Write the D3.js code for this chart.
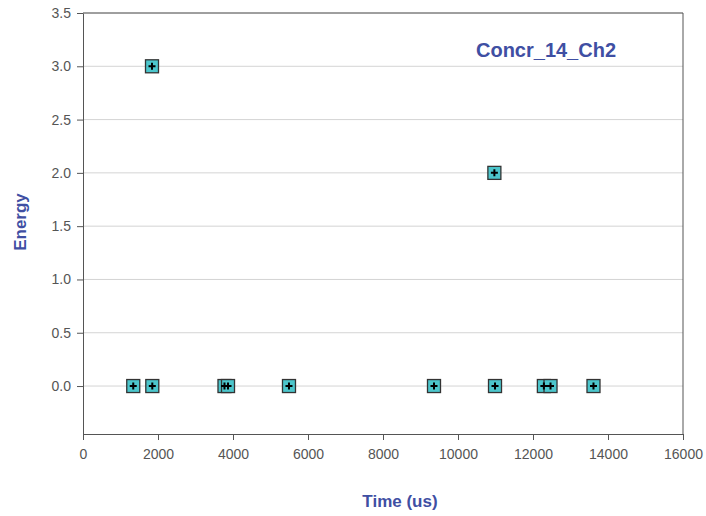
<!DOCTYPE html>
<html><head><meta charset="utf-8">
<script src="https://cdn.jsdelivr.net/npm/d3@7"></script>
<style>body{margin:0;background:#fff;}</style>
</head><body>
<script>
const timeUs = [1340, 1848, 3773, 3867, 5493, 9360, 10987, 12290, 12467, 13613, 1840, 10970];
const energy = [0, 0, 0, 0, 0, 0, 0, 0, 0, 0, 3, 2];
const xTicks = [0, 2000, 4000, 6000, 8000, 10000, 12000, 14000, 16000];
const yTicks = [0, 0.5, 1.0, 1.5, 2.0, 2.5, 3.0, 3.5];
const chartTitle = "Concr_14_Ch2";
const xTitle = "Time (us)";
const yTitle = "Energy";

const W = 706, H = 516;
const m = {left: 83, right: 23, top: 13, bottom: 82};
const svg = d3.select("body").append("svg").attr("width", W).attr("height", H);
const x = d3.scaleLinear().domain([0, 16000]).range([m.left, W - m.right]);
const y = d3.scaleLinear().domain([-0.45, 3.5]).range([H - m.bottom, m.top]);

// gridlines
svg.append("g").selectAll("line").data(yTicks).join("line")
  .attr("x1", m.left).attr("x2", W - m.right)
  .attr("y1", d => y(d)).attr("y2", d => y(d))
  .attr("stroke", "#d4d4d4").attr("stroke-width", 1);

// frame top and right
svg.append("line").attr("x1", m.left).attr("x2", W - m.right).attr("y1", m.top).attr("y2", m.top).attr("stroke", "#555");
svg.append("line").attr("x1", W - m.right).attr("x2", W - m.right).attr("y1", m.top).attr("y2", H - m.bottom).attr("stroke", "#555");

const ya = svg.append("g").attr("transform", `translate(${m.left},0)`)
  .call(d3.axisLeft(y).tickValues(yTicks).tickFormat(d3.format(".1f")).tickSize(6).tickSizeOuter(0));
const xa = svg.append("g").attr("transform", `translate(0,${H - m.bottom})`)
  .call(d3.axisBottom(x).tickValues(xTicks).tickFormat(d3.format("d")).tickSize(6).tickSizeOuter(0));
[ya, xa].forEach(g => {
  g.select(".domain").attr("stroke", "#555");
  g.selectAll(".tick line").attr("stroke", "#555");
  g.selectAll(".tick text").attr("fill", "#555").attr("font-family", "Liberation Sans, Arial, sans-serif").attr("font-size", 14);
});
ya.selectAll(".tick text").attr("x", -12);
xa.selectAll(".tick text").attr("dy", "1.15em");

// markers
const pts = timeUs.map((t, i) => ({t, e: energy[i]}));
const g = svg.append("g");
const s = 13;
g.selectAll("rect").data(pts).join("rect")
  .attr("x", d => x(d.t) - s / 2).attr("y", d => y(d.e) - s / 2)
  .attr("width", s).attr("height", s)
  .attr("fill", "#4cc6cc").attr("stroke", "#333").attr("stroke-width", 1.3);
g.selectAll("path").data(pts).join("path")
  .attr("d", d => `M${x(d.t) - 3.5},${y(d.e)}H${x(d.t) + 3.5}M${x(d.t)},${y(d.e) - 3.5}V${y(d.e) + 3.5}`)
  .attr("stroke", "#000").attr("stroke-width", 2);

// titles
svg.append("text").attr("x", 546).attr("y", 57).attr("text-anchor", "middle")
  .attr("font-family", "Liberation Sans, Arial, sans-serif").attr("font-weight", "bold").attr("font-size", 20)
  .attr("fill", "#3f4fa3").text(chartTitle);
svg.append("text").attr("x", 400).attr("y", 507).attr("text-anchor", "middle")
  .attr("font-family", "Liberation Sans, Arial, sans-serif").attr("font-weight", "bold").attr("font-size", 17)
  .attr("fill", "#3f4fa3").text(xTitle);
svg.append("text").attr("transform", "translate(26,222) rotate(-90)").attr("text-anchor", "middle")
  .attr("font-family", "Liberation Sans, Arial, sans-serif").attr("font-weight", "bold").attr("font-size", 17)
  .attr("fill", "#3f4fa3").text(yTitle);
</script>
</body></html>
